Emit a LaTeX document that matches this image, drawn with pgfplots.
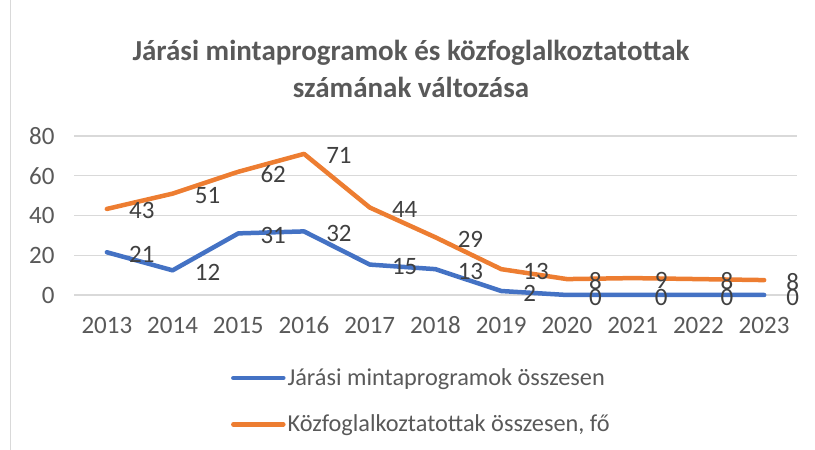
\documentclass[border=0pt]{standalone}
\usepackage{fontspec}
\setmainfont{Carlito}
\usepackage{pgfplots}
\pgfplotsset{compat=1.18}
\definecolor{cblue}{HTML}{4472C4}
\definecolor{corange}{HTML}{ED7D31}
\definecolor{tgray}{HTML}{595959}
\definecolor{lgray}{HTML}{404040}
\definecolor{ggray}{HTML}{D9D9D9}
\begin{document}
\begin{tikzpicture}[x=1bp,y=1bp]
\useasboundingbox (0,0) rectangle (815,450);
\draw[ggray, line width=1bp] (10,0) -- (10,450);
\node[align=center, text=tgray, font=\fontsize{29bp}{37bp}\selectfont\bfseries] at (411,381) {Járási mintaprogramok és közfoglalkoztatottak\\számának változása};
\begin{axis}[
  at={(74bp,155bp)}, anchor=south west,
  scale only axis, width=723bp, height=159bp,
  xmin=2012.5, xmax=2023.5, ymin=0, ymax=80,
  xtick={2013,...,2023}, ytick={0,20,40,60,80},
  xticklabel style={/pgf/number format/1000 sep={}},
  /pgf/number format/assume math mode=true,
  ymajorgrids, major grid style={ggray, line width=1.2bp},
  axis line style={draw=none},
  tick style={draw=none},
  ticklabel style={font=\fontsize{25bp}{30bp}\selectfont, text=tgray},
  xticklabel style={anchor=base, yshift=-39bp},
  yticklabel style={xshift=-16bp},
  clip=false,
  every axis plot/.append style={line width=4.5bp, line join=round, line cap=round},
  nodes near coords,
  point meta=explicit symbolic,
  every node near coord/.append style={anchor=west, xshift=20bp, yshift=-2bp, inner sep=0pt, font=\fontsize{25bp}{30bp}\selectfont, text=lgray},
  legend style={at={(0.217,-0.45)}, anchor=north west, draw=none, fill=none, font=\fontsize{24.3bp}{29bp}\selectfont, text=tgray, row sep=24bp, inner sep=0pt, cells={anchor=west}},
  legend image code/.code={\draw[#1, line width=4.5bp, line cap=round] (0bp,0bp) -- (50bp,0bp);},
  legend cell align=left,
]
\addplot[cblue] table[meta=m] {
x y m
2013 21.5 21
2014 12.4 12
2015 31 31
2016 32 32
2017 15.3 15
2018 13 13
2019 2 2
2020 0 0
2021 0 0
2022 0 0
2023 0 0
};
\addlegendentry{Járási mintaprogramok összesen}
\addplot[corange] table[meta=m] {
x y m
2013 43.3 43
2014 51 51
2015 62 62
2016 71 71
2017 44 44
2018 29 29
2019 13 13
2020 8 8
2021 8.5 9
2022 8 8
2023 7.5 8
};
\addlegendentry{Közfoglalkoztatottak összesen, fő}
\end{axis}
\end{tikzpicture}
\end{document}
